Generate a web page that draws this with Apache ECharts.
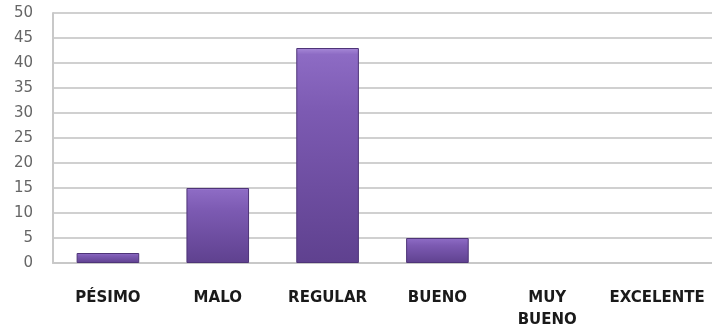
<!DOCTYPE html>
<html><head><meta charset="utf-8">
<script src="https://cdn.jsdelivr.net/npm/echarts@6/dist/echarts.min.js"></script>
<style>html,body{margin:0;padding:0;background:#fff}#c{width:712px;height:328px}</style>
</head><body><div id="c"></div>
<script>
const categories = ['PÉSIMO', 'MALO', 'REGULAR', 'BUENO', 'MUY\nBUENO', 'EXCELENTE'];
const values = [2, 15, 43, 5, 0, 0];
const yMin = 0, yMax = 50, yStep = 5;

const chart = echarts.init(document.getElementById('c'));
chart.setOption({
  animation: false,
  grid: { left: 53, right: 0, top: 13, bottom: 65, containLabel: false, outerBoundsMode: 'none' },
  xAxis: {
    type: 'category',
    data: categories,
    axisLine: { show: true, lineStyle: { color: '#c8c8c8', width: 2 } },
    axisTick: { show: false },
    axisLabel: { interval: 0, hideOverlap: false, margin: 24, color: '#1a1a1a', fontWeight: 'bold', fontSize: 15, fontFamily: 'DejaVu Sans', lineHeight: 22 }
  },
  yAxis: {
    type: 'value', min: yMin, max: yMax, interval: yStep,
    axisLine: { show: true, lineStyle: { color: '#c8c8c8', width: 2 } },
    axisTick: { show: false },
    splitLine: { lineStyle: { color: '#d0d0d0', width: 2 } },
    axisLabel: { margin: 20, color: '#666666', fontSize: 15, fontFamily: 'DejaVu Sans' }
  },
  series: [{
    type: 'bar',
    data: values.map(v => v === 0 ? { value: v, itemStyle: { borderWidth: 0, opacity: 0 } } : v),
    barWidth: '57%',
    itemStyle: {
      borderColor: '#4e3478', borderWidth: 1,
      color: new echarts.graphic.LinearGradient(0, 0, 0, 1, [
        { offset: 0, color: '#a88ad8' },
        { offset: 0.03, color: '#8d6bc4' },
        { offset: 0.3, color: '#7c5ab2' },
        { offset: 1, color: '#5f418f' }
      ])
    }
  }]
});
</script></body></html>
